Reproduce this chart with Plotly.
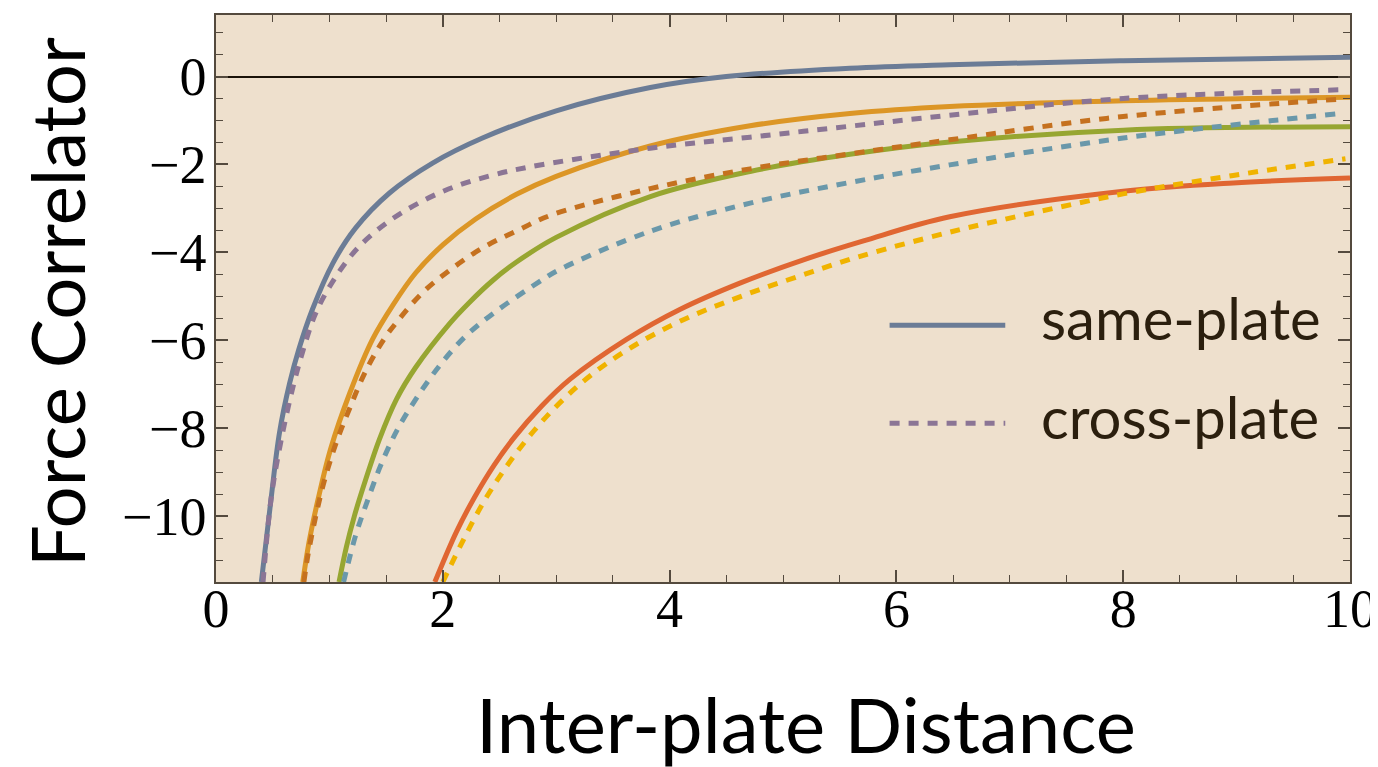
import plotly.graph_objects as go

# ---- data ----
same1_x = [0.40, 0.485, 0.56, 0.65, 0.73, 0.85, 1.03, 1.23, 1.53, 1.91, 2.35, 3.0, 3.83, 4.5, 5.59, 6.47, 8.0, 10.0]
same1_y = [-11.5, -9.62, -8.1, -6.97, -6.21, -5.30, -4.25, -3.45, -2.65, -1.97, -1.40, -0.78, -0.25, 0.0, 0.19, 0.27, 0.36, 0.44]

cross1_x = [0.415, 0.485, 0.57, 0.68, 0.77, 0.88, 1.04, 1.25, 1.51, 1.80, 2.11, 2.43, 2.76, 3.83, 4.71, 5.59, 6.47, 8.0, 9.94]
cross1_y = [-11.5, -9.62, -8.33, -7.05, -6.21, -5.38, -4.62, -3.90, -3.32, -2.86, -2.50, -2.25, -2.06, -1.63, -1.38, -1.13, -0.88, -0.50, -0.30]

same2_x = [0.765, 0.82, 0.90, 1.01, 1.18, 1.38, 1.56, 1.76, 2.0, 2.29, 2.65, 3.0, 3.83, 4.71, 5.59, 6.47, 8.0, 10.0]
same2_y = [-11.5, -10.6, -9.62, -8.48, -7.2, -5.98, -5.2, -4.47, -3.83, -3.24, -2.68, -2.27, -1.58, -1.12, -0.84, -0.68, -0.55, -0.47]

cross2_x = [0.775, 0.81, 0.88, 0.955, 1.06, 1.18, 1.32, 1.48, 1.59, 1.82, 2.07, 2.35, 2.66, 2.97, 3.83, 4.71, 5.59, 6.47, 8.0, 9.94]
cross2_y = [-11.5, -10.9, -10.0, -9.2, -8.33, -7.54, -6.70, -5.98, -5.6, -4.92, -4.39, -3.90, -3.50, -3.14, -2.55, -2.10, -1.76, -1.44, -0.91, -0.51]

same3_x = [1.085, 1.15, 1.22, 1.32, 1.44, 1.59, 1.76, 2.06, 2.23, 2.44, 2.65, 3.0, 3.83, 4.71, 5.59, 6.47, 8.0, 10.0]
same3_y = [-11.5, -10.7, -10.0, -9.17, -8.26, -7.35, -6.62, -5.62, -5.15, -4.64, -4.22, -3.66, -2.73, -2.16, -1.77, -1.49, -1.22, -1.14]

cross3_x = [1.125, 1.23, 1.34, 1.455, 1.60, 1.78, 1.98, 2.20, 2.47, 2.88, 3.03, 3.83, 4.71, 5.59, 6.47, 8.0, 9.87]
cross3_y = [-11.5, -10.45, -9.62, -8.83, -8.03, -7.27, -6.55, -5.91, -5.34, -4.62, -4.39, -3.52, -2.88, -2.41, -2.01, -1.40, -0.85]

same4_x = [1.93, 2.12, 2.28, 2.45, 2.63, 2.87, 3.12, 3.62, 4.09, 4.62, 5.18, 5.71, 6.47, 8.0, 8.97, 10.0]
same4_y = [-11.5, -10.36, -9.57, -8.85, -8.21, -7.50, -6.89, -5.98, -5.30, -4.70, -4.17, -3.74, -3.19, -2.61, -2.42, -2.31]

cross4_x = [2.0, 2.39, 2.80, 3.21, 3.62, 4.09, 4.59, 5.12, 5.68, 6.44, 6.90, 8.0, 8.97, 9.96]
cross4_y = [-11.5, -9.55, -8.07, -7.0, -6.23, -5.57, -5.04, -4.56, -4.09, -3.56, -3.28, -2.67, -2.25, -1.87]

same_colors = ["#6b7c96", "#dc9626", "#97a631", "#e06632"]
cross_colors = ["#8b7595", "#c5711f", "#6a98aa", "#f0b300"]

legend_labels = ["same-plate", "cross-plate"]
x_title = "Inter-plate Distance"
y_title = "Force Correlator"

same_series = [(same1_x, same1_y), (same2_x, same2_y), (same3_x, same3_y), (same4_x, same4_y)]
cross_series = [(cross1_x, cross1_y), (cross2_x, cross2_y), (cross3_x, cross3_y), (cross4_x, cross4_y)]

fig = go.Figure()
for (xs, ys), c in zip(same_series, same_colors):
    fig.add_trace(go.Scatter(x=xs, y=ys, mode="lines", showlegend=False,
                             line=dict(color=c, width=5, shape="spline", smoothing=1.0)))
for (xs, ys), c in zip(cross_series, cross_colors):
    fig.add_trace(go.Scatter(x=xs, y=ys, mode="lines", showlegend=False,
                             line=dict(color=c, width=5, shape="spline", smoothing=1.0, dash="10px,9px")))

axis_col = "#544a3e"
tickfont = dict(family="Liberation Serif", size=54, color="black")

fig.update_xaxes(range=[0, 10], dtick=2, tick0=0, ticks="inside", ticklen=12, tickwidth=1.5,
                 tickcolor=axis_col, showline=True, linecolor=axis_col, linewidth=1.5,
                 mirror="allticks", showgrid=False, zeroline=False, tickfont=tickfont,
                 minor=dict(dtick=0.5, ticks="inside", ticklen=7, tickwidth=1.2, tickcolor=axis_col, showgrid=False),
                 ticklabelstandoff=-22, automargin=False)
fig.update_yaxes(range=[-11.5, 1.4], dtick=2, tick0=0, ticks="inside", ticklen=12, tickwidth=1.5,
                 tickcolor=axis_col, showline=True, linecolor=axis_col, linewidth=1.5,
                 mirror="allticks", showgrid=False, zeroline=True, zerolinecolor="#1a1208",
                 zerolinewidth=1.5, tickfont=tickfont,
                 minor=dict(dtick=0.5, ticks="inside", ticklen=7, tickwidth=1.2, tickcolor=axis_col, showgrid=False),
                 ticklabelstandoff=-3, automargin=False)

# legend drawn as decoration
leg_y = [0.453, 0.280]
fig.add_shape(type="line", xref="paper", yref="paper", x0=0.594, x1=0.696, y0=leg_y[0], y1=leg_y[0],
              line=dict(color=same_colors[0], width=5))
fig.add_shape(type="line", xref="paper", yref="paper", x0=0.594, x1=0.696, y0=leg_y[1], y1=leg_y[1],
              line=dict(color=cross_colors[0], width=5, dash="10px,9px"))
for lab, yy in zip(legend_labels, [0.466, 0.292]):
    fig.add_annotation(text=lab, xref="paper", yref="paper", x=0.7255, y=yy, xanchor="left",
                       yanchor="middle", showarrow=False,
                       font=dict(family="Lato", size=58, color="#2b1f0e"))

fig.add_annotation(text=x_title, xref="paper", yref="paper", x=0.520, y=-0.25, xanchor="center",
                   yanchor="middle", showarrow=False, font=dict(family="Lato", size=76, color="black"))
fig.add_annotation(text=y_title, xref="paper", yref="paper", x=-0.1402, y=0.494, xanchor="center",
                   yanchor="middle", showarrow=False, textangle=-90,
                   font=dict(family="Lato", size=74, color="black"))

fig.update_layout(width=1378, height=767, margin=dict(l=208, r=36, t=7, b=193),
                  paper_bgcolor="white", plot_bgcolor="#eee0cd", showlegend=False)

fig.write_html("out.html")
